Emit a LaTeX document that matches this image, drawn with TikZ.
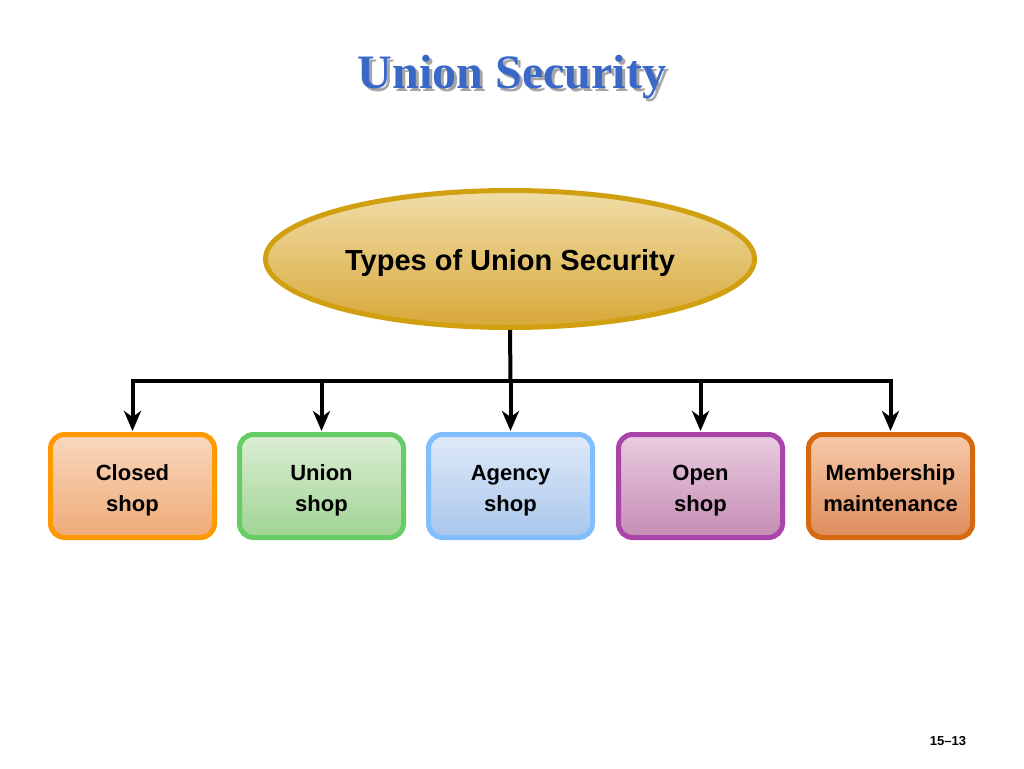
\documentclass[tikz,border=0pt]{standalone}
\usepackage{fontspec}
\setmainfont{Liberation Sans}
\newfontfamily\titlefont{Liberation Serif}
\usetikzlibrary{shapes.geometric,arrows.meta}
\definecolor{titleblue}{HTML}{3A68C8}
\definecolor{goldb}{HTML}{D0A010}
\definecolor{goldt}{HTML}{F0DDA8}
\definecolor{goldbot}{HTML}{D8A838}
\tikzset{
  box/.style={rectangle, rounded corners=14pt, line width=5pt, minimum width=164pt, minimum height=103pt, inner sep=0pt, align=center, text height=56pt, text depth=5pt, font=\bfseries\fontsize{22}{31}\selectfont},
  conn/.style={line width=4pt, line join=miter},
  arr/.style={conn, -{Stealth[length=20pt,width=17pt,inset=6pt]}, shorten >=1pt},
  ttl/.style={font=\titlefont\bfseries\fontsize{48}{52}\selectfont},
}
\begin{document}
\begin{tikzpicture}[x=1pt,y=-1pt]
\useasboundingbox[fill=white] (0,0) rectangle (1024,768);
% title
\node[ttl, text=black!35] at (515,80) {Union Security};
\node (title) [ttl, text=titleblue] at (512,77) {Union Security};
% ellipse
\node (e) [ellipse, draw=goldb, line width=5pt, top color=goldt, bottom color=goldbot, minimum width=489pt, minimum height=137pt, inner sep=0pt, text height=24pt, text depth=2pt, font=\bfseries\fontsize{29}{32}\selectfont] at (510,259) {Types of Union Security};
% boxes
\node (b1) [box, draw=orange!80!yellow, top color={rgb,255:red,249;green,216;blue,190}, bottom color={rgb,255:red,238;green,170;blue,118}] at (132.5,486) {Closed\\shop};
\node (b2) [box, draw={rgb,255:red,102;green,204;blue,102}, top color={rgb,255:red,220;green,238;blue,212}, bottom color={rgb,255:red,160;green,212;blue,148}] at (321.5,486) {Union\\shop};
\node (b3) [box, draw={rgb,255:red,128;green,190;blue,255}, top color={rgb,255:red,224;green,234;blue,248}, bottom color={rgb,255:red,168;green,198;blue,236}] at (510.5,486) {Agency\\shop};
\node (b4) [box, draw={rgb,255:red,170;green,68;blue,170}, top color={rgb,255:red,234;green,204;blue,224}, bottom color={rgb,255:red,196;green,140;blue,180}] at (700.5,486) {Open\\shop};
\node (b5) [box, draw={rgb,255:red,214;green,104;blue,16}, top color={rgb,255:red,246;green,202;blue,170}, bottom color={rgb,255:red,222;green,140;blue,92}] at (890.5,486) {Membership\\maintenance};
% connectors
\coordinate (bus) at (510.5,381);
\draw[conn] (e.south) -- (bus);
\draw[arr] (bus) -| (b1.north);
\draw[arr] (bus) -| (b5.north);
\draw[arr] (bus -| b2.north) -- (b2.north);
\draw[arr] (bus) -- (b3.north);
\draw[arr] (bus -| b4.north) -- (b4.north);
% page number
\node (pg) [font=\bfseries\fontsize{13}{15}\selectfont] at (948,741) {15--13};
\end{tikzpicture}
\end{document}
